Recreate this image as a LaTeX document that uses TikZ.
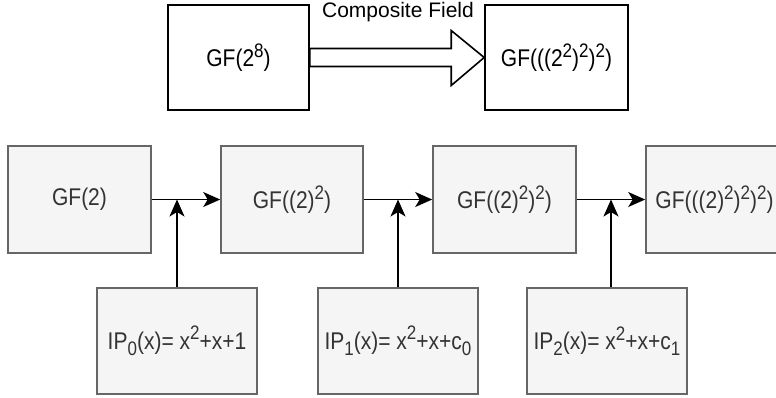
\documentclass[tikz,border=0pt]{standalone}
\usepackage{fontspec}
\usepackage{graphicx}
\setmainfont{Liberation Sans}
\usetikzlibrary{arrows.meta,calc}
\definecolor{boxfill}{HTML}{F5F5F5}
\definecolor{boxline}{HTML}{666666}
\definecolor{boxtext}{HTML}{333333}
\newcommand\upx[1]{\raisebox{8pt}{\fontsize{17}{17}\selectfont #1}}
\newcommand\dnx[1]{\raisebox{-5.5pt}{\fontsize{17}{17}\selectfont #1}}
\newcommand\stt[1]{\scalebox{1}[1.15]{#1}}
\begin{document}
\begin{tikzpicture}[x=1pt,y=-1pt,
  txt/.style={font=\fontsize{21}{25}\selectfont, inner sep=0pt},
  topbox/.style={txt, draw=black, line width=1.6pt, fill=white, minimum height=105pt},
  greybox/.style={txt, draw=boxline, line width=1.6pt, fill=boxfill, text=boxtext, minimum height=107pt},
  ipbox/.style={greybox, minimum width=160pt, minimum height=106pt},
  conn/.style={line width=1.6pt, -{Stealth[length=17pt,width=15pt,inset=4.5pt]}},
  bigarrow/.style={draw=black, line width=1.6pt, fill=white, line join=miter}
]
\useasboundingbox (0,0) rectangle (776,397);

% top row
\node[topbox, minimum width=141pt] (A) at (238.5,57.5) {\stt{GF(2\upx{8})}};
\node[topbox, minimum width=143pt] (B) at (556.5,57.5) {\stt{GF(((2\upx{2})\upx{2})\upx{2})}};
\node[txt, anchor=base] (lbl) at (398,17.5) {Composite Field};
\draw[bigarrow] ($(A.east)+(0,-9)$) -- ($(B.west)+(-33,-9)$) -- ($(B.west)+(-33,-27)$)
  -- (B.west) -- ($(B.west)+(-33,28)$) -- ($(B.west)+(-33,9)$) -- ($(A.east)+(0,9)$) -- cycle;

% field chain
\node[greybox, minimum width=143pt] (G1) at (79.5,199.5) {\stt{GF(2)}};
\node[greybox, minimum width=142pt] (G2) at (292,199.5) {\stt{GF((2)\upx{2})}};
\node[greybox, minimum width=143pt] (G3) at (504.5,199.5) {\stt{GF((2)\upx{2})\upx{2})}};
\node[greybox, minimum width=143pt] (G4) at (717.5,199.5) {\stt{GF(((2)\upx{2})\upx{2})\upx{2})}\hspace*{6pt}};

% irreducible polynomials
\node[ipbox] (P0) at (177,341) {\stt{IP\dnx{0}(x)= x\upx{2}+x+1}};
\node[ipbox] (P1) at (398,341) {\stt{IP\dnx{1}(x)= x\upx{2}+x+c\dnx{0}}};
\node[ipbox] (P2) at (607,341) {\stt{IP\dnx{2}(x)= x\upx{2}+x+c\dnx{1}}};

\draw[conn] (G1.east) -- (G2.west);
\draw[conn] (G2.east) -- (G3.west);
\draw[conn] (G3.east) -- (G4.west);

\coordinate (j0) at (P0.north |- G1.east);
\coordinate (j1) at (P1.north |- G2.east);
\coordinate (p2top) at ($(P2.north)+(4,0)$);
\coordinate (j2) at (p2top |- G3.east);
\draw[conn] (P0.north) -- (j0);
\draw[conn] (P1.north) -- (j1);
\draw[conn] (p2top) -- (j2);
\end{tikzpicture}
\end{document}
